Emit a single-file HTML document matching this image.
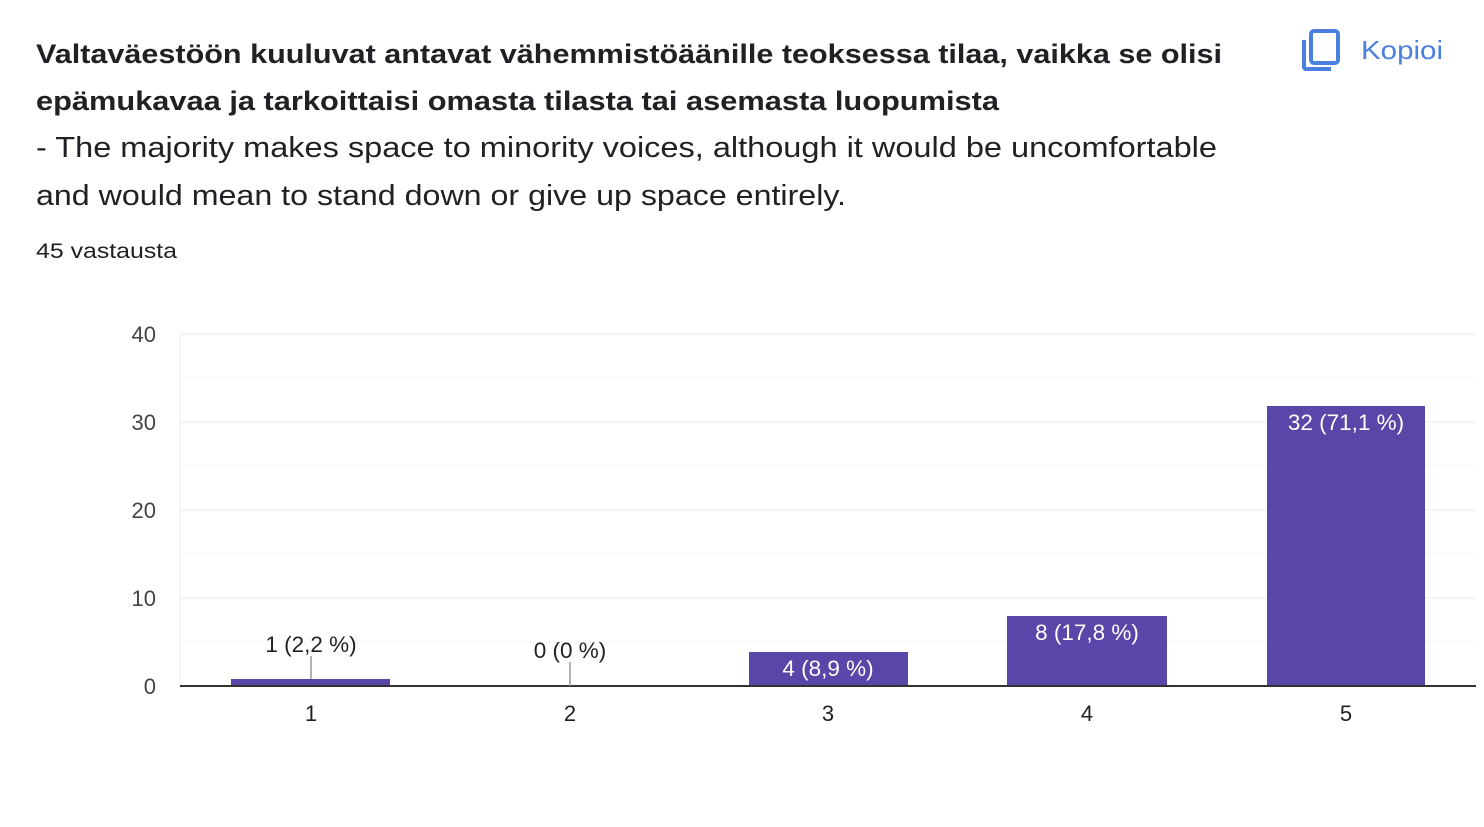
<!DOCTYPE html>
<html><head><meta charset="utf-8"><style>
body{margin:0;background:#fff;width:1484px;height:822px;overflow:hidden;font-family:"Liberation Sans",Arial,sans-serif;}
</style></head><body>
<svg width="1484" height="822" xmlns="http://www.w3.org/2000/svg" font-family="Liberation Sans, Arial, sans-serif">
<text x="36" y="63" font-size="27" font-weight="bold" fill="#202124" textLength="1186" lengthAdjust="spacingAndGlyphs">Valtaväestöön kuuluvat antavat vähemmistöäänille teoksessa tilaa, vaikka se olisi</text>
<text x="36" y="110" font-size="27" font-weight="bold" fill="#202124" textLength="963" lengthAdjust="spacingAndGlyphs">epämukavaa ja tarkoittaisi omasta tilasta tai asemasta luopumista</text>
<text x="36" y="157" font-size="29" fill="#202124" textLength="1181" lengthAdjust="spacingAndGlyphs">- The majority makes space to minority voices, although it would be uncomfortable</text>
<text x="36" y="205" font-size="29" fill="#202124" textLength="810" lengthAdjust="spacingAndGlyphs">and would mean to stand down or give up space entirely.</text>
<text x="36" y="258" font-size="21" fill="#202124" textLength="141" lengthAdjust="spacingAndGlyphs">45 vastausta</text>
<g fill="none" stroke="#4a7fe0" stroke-width="4">
<rect x="1311" y="31" width="27" height="32" rx="3"/>
<path d="M1304 40 V67 a2 2 0 0 0 2 2 H1331"/>
</g>
<text x="1361" y="59" font-size="26" fill="#4a7fe0" textLength="82" lengthAdjust="spacingAndGlyphs">Kopioi</text>
<g stroke="#ebebeb" stroke-width="1">
<line x1="180" y1="334" x2="1476" y2="334"/>
<line x1="180" y1="378" x2="1476" y2="378" stroke="#f4f4f4"/>
<line x1="180" y1="422" x2="1476" y2="422"/>
<line x1="180" y1="466" x2="1476" y2="466" stroke="#f4f4f4"/>
<line x1="180" y1="510" x2="1476" y2="510"/>
<line x1="180" y1="554" x2="1476" y2="554" stroke="#f4f4f4"/>
<line x1="180" y1="598" x2="1476" y2="598"/>
<line x1="180" y1="642" x2="1476" y2="642" stroke="#f4f4f4"/>
<line x1="180" y1="334" x2="180" y2="686"/>
</g>
<g font-size="22" fill="#444" text-anchor="end">
<text x="156" y="342">40</text><text x="156" y="430">30</text><text x="156" y="518">20</text><text x="156" y="606">10</text><text x="156" y="694">0</text>
</g>
<g fill="#5a45a8">
<rect x="231" y="679" width="159" height="7"/>
<rect x="749" y="652" width="159" height="34"/>
<rect x="1007" y="616" width="160" height="70"/>
<rect x="1267" y="406" width="158" height="280"/>
</g>
<line x1="180" y1="686" x2="1476" y2="686" stroke="#333" stroke-width="2"/>
<line x1="311" y1="656" x2="311" y2="679" stroke="#999" stroke-width="1.5"/>
<line x1="570" y1="662" x2="570" y2="686" stroke="#999" stroke-width="1.5"/>
<g font-size="22.5" text-anchor="middle">
<text x="311" y="652" fill="#222">1 (2,2 %)</text>
<text x="570" y="658" fill="#222">0 (0 %)</text>
<text x="828" y="676" fill="#fff">4 (8,9 %)</text>
<text x="1087" y="640" fill="#fff">8 (17,8 %)</text>
<text x="1346" y="430" fill="#fff">32 (71,1 %)</text>
</g>
<g font-size="22" fill="#222" text-anchor="middle">
<text x="311" y="721">1</text><text x="570" y="721">2</text><text x="828" y="721">3</text><text x="1087" y="721">4</text><text x="1346" y="721">5</text>
</g>
</svg>
</body></html>
